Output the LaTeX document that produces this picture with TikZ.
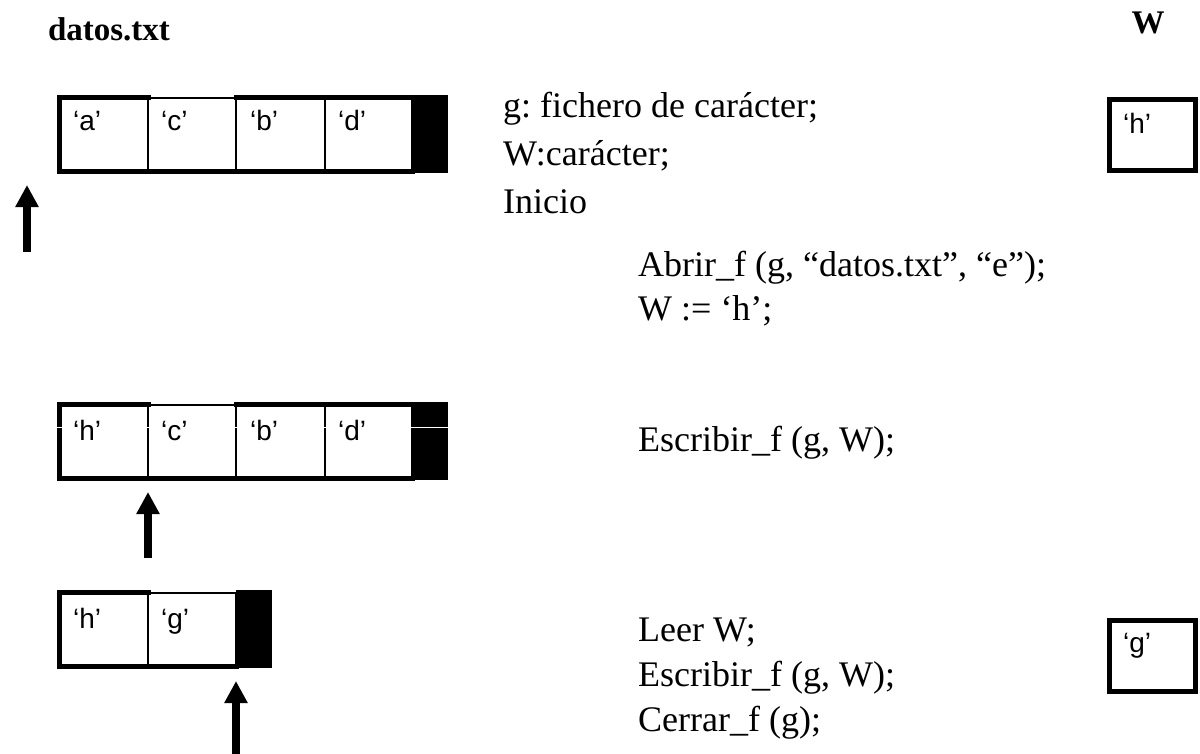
\documentclass[tikz,border=0pt]{standalone}
\usepackage{fontspec}
\setmainfont{Liberation Serif}
\newfontfamily\charfont{Liberation Sans}
\usetikzlibrary{arrows.meta}
\frenchspacing
\begin{document}
\begin{tikzpicture}[x=1pt,y=-1pt,
  code/.style={anchor=base west,inner sep=0pt,font=\fontsize{36}{43}\selectfont},
  heading/.style={anchor=base,inner sep=0pt,font=\fontsize{33}{40}\selectfont\bfseries},
  chr/.style={anchor=base west,inner sep=0pt,font=\charfont\fontsize{28}{34}\selectfont},
  cell/.style={draw,line width=2pt,anchor=north west,inner sep=0pt,outer sep=0pt,minimum height=74pt},
  eof/.style={fill=black,anchor=north west,inner sep=0pt,outer sep=0pt,minimum width=36pt,minimum height=78pt},
  frame/.style={line width=5pt,line cap=rect},
  varbox/.style={draw,line width=5pt,anchor=north west,inner sep=0pt,outer sep=0pt,minimum width=86pt,minimum height=71pt},
  pointer/.style={line width=8pt,-{Triangle[width=22pt,length=22pt]}}
]
\useasboundingbox (0,0) rectangle (1200,753);

% headings
\node[heading] (fname) at (109,40) {datos.txt};
\node[heading] (wname) at (1148,33) {W};

% ---------- file after opening: 'a' 'c' 'b' 'd' EOF ----------
\node[cell,minimum width=89pt] (a1) at (59,97.5) {};
\node[cell,minimum width=88pt] (a2) at (148,97.5) {};
\node[cell,minimum width=89pt] (a3) at (236,97.5) {};
\node[cell,minimum width=87pt] (a4) at (325,97.5) {};
\node[eof] (a5) at (412,95) {};
\draw[frame] (a1.north west) -- (a1.north east);
\draw[frame] (a3.north west) -- (a4.north east);
\draw[frame] (a1.north west) -- (a1.south west) -- (a4.south east);
\node[chr] at (73,130) {‘a’};
\node[chr] at (161,130) {‘c’};
\node[chr] at (250,130) {‘b’};
\node[chr] at (338,130) {‘d’};
\coordinate (p1tail) at (27,252);
\coordinate (p1tip) at (27,185);
\draw[pointer] (p1tail) -- (p1tip);

% ---------- after writing 'h' ----------
\node[cell,minimum width=89pt] (b1) at (59,404.5) {};
\node[cell,minimum width=88pt] (b2) at (148,404.5) {};
\node[cell,minimum width=89pt] (b3) at (236,404.5) {};
\node[cell,minimum width=87pt] (b4) at (325,404.5) {};
\node[eof] (b5) at (412,402) {};
\draw[frame] (b1.north west) -- (b1.north east);
\draw[frame] (b3.north west) -- (b4.north east);
\draw[frame] (b1.north west) -- (b1.south west) -- (b4.south east);
\draw[white,line width=0.8pt] (56,427) -- (449,427);
\node[chr] at (73,440) {‘h’};
\node[chr] at (161,440) {‘c’};
\node[chr] at (250,440) {‘b’};
\node[chr] at (338,440) {‘d’};
\coordinate (p2tail) at (148,558);
\coordinate (p2tip) at (148,492);
\draw[pointer] (p2tail) -- (p2tip);

% ---------- after writing 'g' and closing ----------
\node[cell,minimum width=89pt] (c1) at (59,592.5) {};
\node[cell,minimum width=88pt] (c2) at (148,592.5) {};
\node[eof] (c3) at (236,590) {};
\draw[frame] (c1.north west) -- (c1.north east);
\draw[frame] (c1.north west) -- (c1.south west) -- (c2.south east);
\node[chr] at (73,628) {‘h’};
\node[chr] at (161,628) {‘g’};
\coordinate (p3tail) at (236,760);
\coordinate (p3tip) at (236,681);
\draw[pointer] (p3tail) -- (p3tip);

% ---------- program ----------
\node[code] (l1) at (503,117) {g: fichero de carácter;};
\node[code] (l2) at (503,165) {W:carácter;};
\node[code] (l3) at (503,213) {Inicio};
\node[code] (l4) at (638,276) {Abrir\_f (g, “datos.txt”, “e”);};
\node[code] (l5) at (638,320) {W := ‘h’;};
\node[code] (l6) at (638,451) {Escribir\_f (g, W);};
\node[code] (l7) at (638,641) {Leer W;};
\node[code] (l8) at (638,686) {Escribir\_f (g, W);};
\node[code] (l9) at (638,731) {Cerrar\_f (g);};

% ---------- variable W ----------
\node[varbox] (w1) at (1109.5,99.5) {};
\node[chr] at (1123,133) {‘h’};
\node[varbox] (w2) at (1109.5,620.5) {};
\node[chr] at (1123,652) {‘g’};
\end{tikzpicture}
\end{document}
